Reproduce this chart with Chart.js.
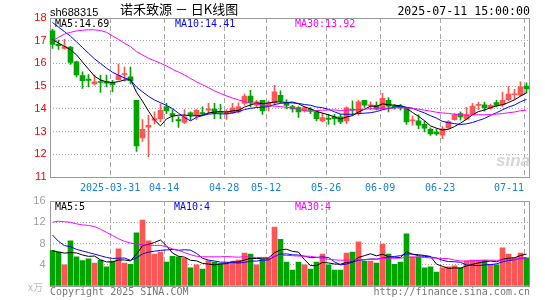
<!DOCTYPE html>
<html><head><meta charset="utf-8">
<script src="https://cdn.jsdelivr.net/npm/chart.js@4/dist/chart.umd.min.js"></script>
<style>
html,body{margin:0;padding:0;background:#fff;}
#wrap{position:relative;width:545px;height:300px;overflow:hidden;background:#fff;}
canvas{position:absolute;left:0;}
.t{position:absolute;white-space:nowrap;line-height:1;}
.m{font-family:'DejaVu Sans Mono',monospace;font-size:10px;}
</style></head><body>
<div id="wrap">
<canvas id="k" width="545" height="192" style="top:0;width:545px;height:192px"></canvas>
<canvas id="v" width="545" height="110" style="top:190px;width:545px;height:110px"></canvas>
<div class="t" style="left:50px;top:7px;font-family:'Liberation Sans';font-size:11px;color:#000">sh688315</div>
<div class="t" style="left:120px;top:2.3px;font-family:'Noto Sans CJK SC';font-size:13px;color:#000">诺禾致源 － 日K线图</div>
<div class="t" style="right:15px;top:6.2px;font-family:'DejaVu Sans Mono';font-size:11.6px;color:#000">2025-07-11 15:00:00</div>
<div class="t m" style="left:55px;top:18.5px;color:#000">MA5:14.69</div>
<div class="t m" style="left:175px;top:18.5px;color:#0000ff">MA10:14.41</div>
<div class="t m" style="left:295px;top:18.5px;color:#ff00ff">MA30:13.92</div>
<div class="t m" style="left:55px;top:201.5px;color:#000">MA5:5</div>
<div class="t m" style="left:174px;top:201.5px;color:#0000ff">MA10:4</div>
<div class="t m" style="left:295px;top:201.5px;color:#ff00ff">MA30:4</div>
<div class="t" style="left:28px;top:282px;font-family:'Noto Sans CJK SC';font-size:10px;color:#bbb">x万</div>
<div class="t m" style="left:50px;top:287px;color:#777">Copyright 2025 SINA.COM</div>
<div class="t m" style="right:15px;top:287px;color:#777">http://finance.sina.com.cn</div>
<div class="t" style="left:496px;top:152px;font-family:'Liberation Sans';font-size:17px;font-weight:bold;font-style:italic;color:#d6d6d6">sina</div>
</div>
<script>
const dates = ['2025-03-17','2025-03-18','2025-03-19','2025-03-20','2025-03-21','2025-03-24','2025-03-25','2025-03-26','2025-03-27','2025-03-28',
'2025-03-31','2025-04-01','2025-04-02','2025-04-03','2025-04-07','2025-04-08','2025-04-09','2025-04-10','2025-04-11','2025-04-14',
'2025-04-15','2025-04-16','2025-04-17','2025-04-18','2025-04-21','2025-04-22','2025-04-23','2025-04-24','2025-04-25','2025-04-28',
'2025-04-29','2025-04-30','2025-05-06','2025-05-07','2025-05-08','2025-05-09','2025-05-12','2025-05-13','2025-05-14','2025-05-15',
'2025-05-16','2025-05-19','2025-05-20','2025-05-21','2025-05-22','2025-05-23','2025-05-26','2025-05-27','2025-05-28','2025-05-29',
'2025-05-30','2025-06-03','2025-06-04','2025-06-05','2025-06-06','2025-06-09','2025-06-10','2025-06-11','2025-06-12','2025-06-13',
'2025-06-16','2025-06-17','2025-06-18','2025-06-19','2025-06-20','2025-06-23','2025-06-24','2025-06-25','2025-06-26','2025-06-27',
'2025-06-30','2025-07-01','2025-07-02','2025-07-03','2025-07-04','2025-07-07','2025-07-08','2025-07-09','2025-07-10','2025-07-11'];

const opens = [17.43,16.84,16.66,16.72,16.07,15.46,15.31,15.10,15.19,15.19,
15.16,15.29,15.50,15.41,14.38,12.72,13.19,13.50,13.57,14.09,
13.79,13.53,13.40,13.82,13.72,13.84,13.94,13.99,13.88,13.78,
13.82,13.87,14.24,14.56,14.16,14.37,14.12,14.26,14.60,14.24,
14.10,14.06,13.91,13.97,13.87,13.47,13.57,13.65,13.65,13.47,
13.97,13.79,14.38,14.13,14.16,14.01,14.38,14.12,14.12,14.01,
13.47,13.47,13.32,13.10,12.98,12.84,13.16,13.52,13.79,13.55,
13.76,14.15,14.18,14.03,14.28,14.18,14.40,14.62,14.60,15.00];
const closes = [16.84,16.78,16.74,16.04,15.49,15.24,15.25,15.19,15.16,15.13,
15.07,15.46,15.55,15.24,12.37,13.10,13.28,13.57,13.94,13.91,
13.69,13.47,13.65,13.74,13.94,13.78,14.00,13.82,13.84,13.87,
14.04,14.09,14.56,14.28,14.31,13.91,14.24,14.75,14.35,14.15,
14.00,13.87,14.06,13.93,13.57,13.62,13.54,13.57,13.43,14.04,
13.94,14.31,14.16,14.16,13.99,14.46,14.12,14.09,14.04,13.43,
13.50,13.28,13.15,12.90,12.90,13.12,13.44,13.73,13.64,13.75,
14.12,14.18,14.05,14.16,14.15,14.38,14.65,14.65,14.97,14.88];
const highs = [17.50,17.03,17.07,16.75,16.10,15.63,15.51,15.49,15.49,15.49,
15.26,15.97,15.84,15.84,14.38,13.53,13.72,13.87,14.21,14.24,
13.97,13.65,13.97,13.87,13.97,14.09,14.24,14.24,14.20,13.97,
14.24,14.26,14.65,14.82,14.38,14.38,14.35,15.04,14.79,14.41,
14.15,14.10,14.10,14.06,13.94,13.82,13.76,13.76,13.76,14.09,
14.35,14.38,14.38,14.31,14.31,14.68,14.50,14.20,14.20,14.03,
13.68,13.74,13.46,13.16,13.12,13.22,13.48,13.80,13.87,14.07,
14.24,14.30,14.30,14.21,14.37,14.74,14.98,14.86,15.19,15.15];
const lows = [16.66,16.62,16.63,15.96,15.41,14.90,14.97,15.04,14.72,14.97,
14.75,15.26,15.22,15.10,12.13,12.57,11.90,13.34,13.43,13.79,
13.43,13.18,13.35,13.50,13.54,13.72,13.79,13.57,13.57,13.53,
13.79,13.82,14.16,14.09,14.09,13.76,13.91,14.16,14.26,14.01,
13.85,13.62,13.85,13.79,13.47,13.43,13.32,13.30,13.35,13.35,
13.72,13.72,14.06,13.97,13.94,13.97,13.87,13.99,13.94,13.32,
13.28,13.13,12.99,12.83,12.83,12.69,13.12,13.50,13.50,13.52,
13.76,13.96,13.90,13.98,14.08,14.10,14.35,14.41,14.56,14.70];

const ma5 = [17.05,16.90,16.75,16.60,16.38,16.06,15.75,15.44,15.27,15.19,
15.16,15.20,15.27,15.29,14.73,14.34,13.90,13.51,13.25,13.56,
13.68,13.72,13.73,13.69,13.70,13.72,13.82,13.86,13.88,13.86,
13.91,13.93,14.08,14.17,14.26,14.23,14.26,14.30,14.31,14.28,
14.30,14.22,14.09,14.00,13.89,13.81,13.74,13.65,13.55,13.64,
13.70,13.86,13.98,14.12,14.11,14.22,14.18,14.16,14.14,14.03,
13.84,13.67,13.48,13.25,13.15,13.07,13.10,13.22,13.37,13.54,
13.74,13.88,13.95,14.05,14.13,14.18,14.28,14.40,14.56,14.71];
const ma10 = [17.80,17.60,17.40,17.20,16.95,16.70,16.45,16.20,16.00,15.79,
15.61,15.48,15.36,15.28,14.96,14.75,14.55,14.39,14.27,14.15,
14.01,13.81,13.62,13.47,13.63,13.70,13.77,13.79,13.78,13.78,
13.82,13.88,13.97,14.02,14.06,14.07,14.10,14.19,14.24,14.27,
14.26,14.24,14.19,14.16,14.08,14.05,13.98,13.87,13.77,13.76,
13.76,13.80,13.81,13.83,13.88,13.96,14.02,14.07,14.13,14.07,
14.03,13.92,13.82,13.70,13.59,13.45,13.39,13.35,13.31,13.34,
13.40,13.49,13.58,13.71,13.83,13.96,14.08,14.17,14.31,14.42];
const ma30 = [17.00,17.15,17.29,17.37,17.43,17.46,17.48,17.48,17.45,17.37,
17.21,17.06,16.89,16.74,16.52,16.37,16.23,16.12,16.01,15.89,
15.74,15.62,15.49,15.34,15.19,15.06,14.93,14.79,14.68,14.57,
14.48,14.39,14.32,14.26,14.22,14.17,14.14,14.12,14.10,14.07,
14.03,13.98,13.93,13.88,13.92,13.94,13.95,13.95,13.93,13.94,
13.95,13.97,13.99,14.00,14.01,14.03,14.03,14.04,14.05,14.03,
14.02,13.99,13.94,13.90,13.85,13.82,13.80,13.76,13.74,13.72,
13.73,13.74,13.74,13.75,13.77,13.79,13.83,13.86,13.92,13.94];

const volumes = [6.7,6.4,4.0,8.5,5.5,4.8,5.1,4.3,4.9,3.6,
4.7,7.0,4.3,4.1,10.0,12.4,8.5,6.0,6.4,4.5,
5.6,5.5,5.2,3.4,4.0,3.2,4.8,4.5,4.2,4.4,
4.7,4.9,6.2,6.0,4.0,5.0,5.2,11.1,8.8,4.5,
3.0,4.5,4.0,3.2,4.5,6.0,4.0,3.0,3.0,6.2,
6.4,8.3,4.7,4.7,4.3,7.9,6.0,4.1,4.5,9.8,
5.5,5.5,3.4,3.6,2.6,3.4,3.6,3.8,3.4,4.7,
4.9,4.9,4.9,4.1,4.0,7.2,6.0,5.3,6.2,5.3];
const vma5 = [6.6,6.4,6.2,6.3,6.22,5.84,5.58,5.64,4.92,4.54,
4.52,4.90,4.90,4.74,6.02,7.56,7.86,8.20,8.66,7.56,
6.20,5.60,5.44,4.84,4.74,4.26,4.12,3.98,4.14,4.22,
4.52,4.54,4.88,5.24,5.16,5.22,5.28,6.26,6.82,6.92,
6.52,6.38,4.96,3.84,3.84,4.44,4.34,4.14,4.10,4.44,
4.52,5.38,5.72,6.06,5.68,5.98,5.52,5.40,5.36,6.46,
5.98,5.88,5.74,5.56,4.12,3.70,3.32,3.40,3.36,3.78,
4.08,4.34,4.56,4.70,4.56,5.02,5.24,5.32,5.74,6.00];
const vma10 = [9.6,8.4,7.6,7.4,6.9,6.6,6.3,6.0,5.7,5.38,
5.18,5.24,5.27,4.83,5.28,6.04,6.38,6.55,6.70,6.79,
6.88,6.73,6.82,6.75,6.15,5.23,4.86,4.71,4.49,4.48,
4.39,4.33,4.43,4.69,4.69,4.87,4.91,5.57,6.03,6.04,
5.87,5.83,5.61,5.33,5.38,5.48,5.36,4.55,3.97,4.14,
4.48,4.86,4.93,5.08,5.06,5.25,5.45,5.56,5.71,6.07,
5.98,5.70,5.57,5.46,5.29,4.84,4.60,4.57,4.46,3.95,
3.89,3.83,3.98,4.03,4.17,4.55,4.79,4.94,5.22,5.28];
const vma30 = [12.0,12.2,12.1,12.0,11.7,11.5,11.4,11.2,10.7,10.1,
9.5,8.9,8.4,8.1,7.9,7.8,7.7,7.65,7.65,7.4,
7.0,6.7,6.3,5.9,5.6,5.5,5.5,5.5,5.5,5.55,
5.48,5.43,5.51,5.42,5.37,5.38,5.38,5.61,5.74,5.77,
5.71,5.63,5.62,5.59,5.41,5.19,5.04,4.94,4.83,4.89,
4.91,5.01,4.99,5.03,5.04,5.20,5.24,5.23,5.24,5.42,
5.44,5.46,5.37,5.29,5.24,5.19,5.14,4.89,4.71,4.72,
4.78,4.80,4.83,4.86,4.84,4.88,4.95,5.02,5.13,5.10];

const tickDates  = ['2025-03-31','2025-04-14','2025-04-28','2025-05-12','2025-05-26','2025-06-09','2025-06-23','2025-07-11'];
const tickLabels = ['2025-03-31','04-14','04-28','05-12','05-26','06-09','06-23','07-11'];
const priceTicks = [11,12,13,14,15,16,17,18];
const volTicks = [0,4,8,12,16];

const UP = '#ff5555', DOWN = '#00a400';
const candleColors = opens.map((o,i) => closes[i] >= o ? UP : DOWN);

const tickPos = tickDates.map(d => dates.indexOf(d) - 0.4);
const tickText = {};
tickPos.forEach((p,i) => {
  // the last label sits to the left of its grid line, as in the original
  tickText[p] = i === tickPos.length - 1 ? tickLabels[i] + '     ' : tickLabels[i];
});

function boxPlugin(top, bottom){
  return { id:'box', beforeDatasetsDraw(c){
    const ctx = c.ctx; ctx.save(); ctx.strokeStyle = '#9a9a9a'; ctx.lineWidth = 1;
    ctx.strokeRect(50.5, top + 0.5, 479, bottom - top); ctx.restore();
  }};
}

function lineDs(data, color){
  return {type:'line', data, borderColor:color, borderWidth:1, pointRadius:0, tension:0, fill:false, order:0};
}

function xScale(showLabels, h){
  return {
    type:'category', offset:true,
    grid:{offset:false, color:'#a8a8a8', drawTicks:false, lineWidth:1},
    border:{display:false, dash:[5,3]},
    ticks:{display:showLabels, autoSkip:false, maxRotation:0, minRotation:0, padding:5, color:'#1a80d0',
      font:{family:'DejaVu Sans Mono', size:10}, callback:(v) => tickText[v] !== undefined ? tickText[v] : ''},
    afterBuildTicks: s => { s.ticks = tickPos.map(v => ({value:v})); },
    afterFit: s => { s.height = h; s.paddingLeft = 0; s.paddingRight = 0; }
  };
}

new Chart(document.getElementById('k'), {
  type:'bar',
  data:{ labels:dates, datasets:[
    {type:'bar', data:lows.map((l,i)=>[l,highs[i]]), backgroundColor:candleColors, barThickness:1, grouped:false, order:3},
    {type:'bar', data:opens.map((o,i)=>[o,closes[i]]), backgroundColor:candleColors, barThickness:5, minBarLength:1, grouped:false, order:2},
    lineDs(ma30,'#ff00ff'), lineDs(ma10,'#0000ff'), lineDs(ma5,'#000000')
  ]},
  options:{
    responsive:false, animation:false, devicePixelRatio:1, events:[],
    layout:{padding:{top:18, right:15.5, left:0, bottom:0}},
    plugins:{legend:{display:false}, tooltip:{enabled:false}},
    scales:{
      x: xScale(true, 15),
      y: { min:11, max:18,
        grid:{color:'#a8a8a8', drawTicks:false}, border:{display:false, dash:[1,2]},
        ticks:{stepSize:1, padding:3, color:'#ff0000', font:{family:'Liberation Sans', size:11}},
        afterBuildTicks: s => { s.ticks = priceTicks.map(v=>({value:v})); },
        afterFit: s => { s.width = 49.5; } }
    }
  },
  plugins:[boxPlugin(18,177)]
});

new Chart(document.getElementById('v'), {
  type:'bar',
  data:{ labels:dates, datasets:[
    {type:'bar', data:volumes, backgroundColor:candleColors, barThickness:5, grouped:false, order:2},
    lineDs(vma30,'#ff00ff'), lineDs(vma10,'#0000ff'), lineDs(vma5,'#000000')
  ]},
  options:{
    responsive:false, animation:false, devicePixelRatio:1, events:[],
    layout:{padding:{top:11, right:15.5, left:0, bottom:0}},
    plugins:{legend:{display:false}, tooltip:{enabled:false}},
    scales:{
      x: xScale(false, 14),
      y: { min:0, max:16,
        grid:{color:'#a8a8a8', drawTicks:false}, border:{display:false, dash:[1,2]},
        ticks:{stepSize:4, padding:4, color:'#a0a0a0', font:{family:'Liberation Sans', size:11},
          callback:(v)=> v === 0 ? '' : String(v)},
        afterBuildTicks: s => { s.ticks = volTicks.map(v=>({value:v})); },
        afterFit: s => { s.width = 49.5; } }
    }
  },
  plugins:[boxPlugin(11,96)]
});
</script>
</body></html>
